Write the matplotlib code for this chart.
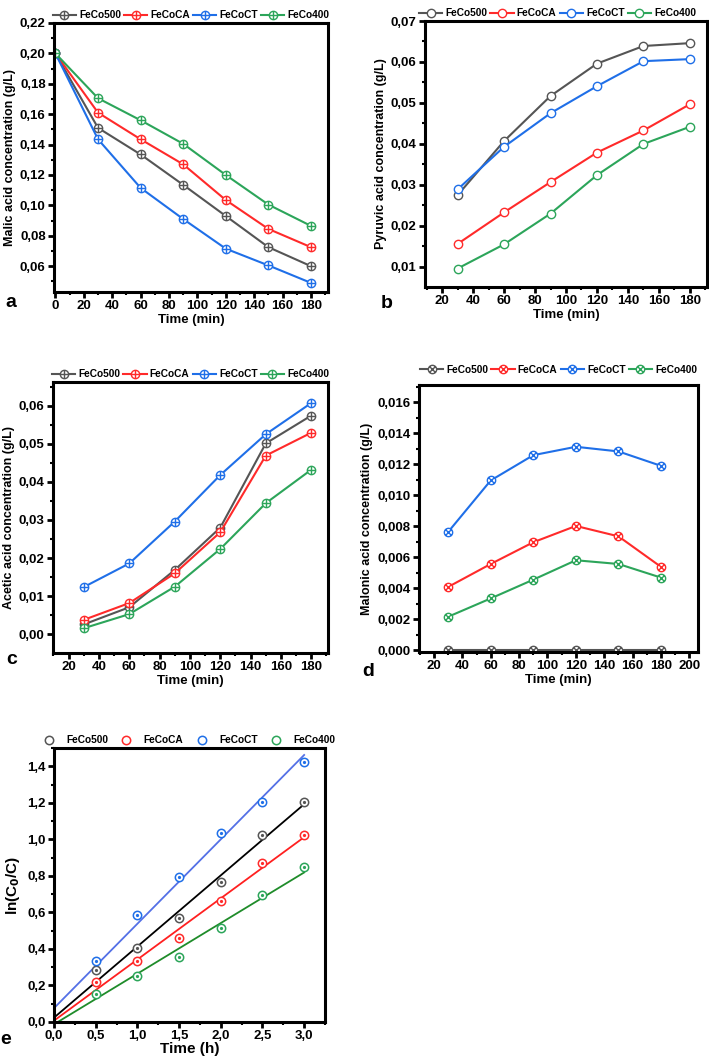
import numpy as np
import matplotlib
matplotlib.use('Agg')
import matplotlib.pyplot as plt
from matplotlib.path import Path
from matplotlib.ticker import MultipleLocator, FuncFormatter

plt.rcParams['font.family'] = ['Liberation Sans', 'DejaVu Sans']
plt.rcParams['font.weight'] = 'bold'
plt.rcParams['axes.labelweight'] = 'bold'

samples = ['FeCo500', 'FeCoCA', 'FeCoCT', 'FeCo400']
colors = ['#555555', '#ff2a2a', '#1f6fe8', '#2ca55a']

# a) malic acid
time_a = [0, 30, 60, 90, 120, 150, 180]
malic = {
    'FeCo500': [0.200, 0.151, 0.1335, 0.1135, 0.093, 0.0725, 0.060],
    'FeCoCA': [0.200, 0.161, 0.1435, 0.127, 0.1035, 0.0845, 0.0725],
    'FeCoCT': [0.200, 0.1435, 0.1115, 0.091, 0.0715, 0.0605, 0.0490],
    'FeCo400': [0.200, 0.1705, 0.156, 0.1405, 0.120, 0.1005, 0.0865],
}

# b, c, d
time_bcd = [30, 60, 90, 120, 150, 180]
pyruvic = {
    'FeCo500': [0.0275, 0.0407, 0.0517, 0.0596, 0.0639, 0.0646],
    'FeCoCA': [0.0156, 0.0233, 0.0307, 0.0379, 0.0433, 0.0497],
    'FeCoCT': [0.0289, 0.0393, 0.0475, 0.0541, 0.0602, 0.0607],
    'FeCo400': [0.0096, 0.0155, 0.0230, 0.0324, 0.0400, 0.0442],
}
acetic = {
    'FeCo500': [0.0026, 0.0071, 0.0169, 0.0280, 0.0501, 0.0574],
    'FeCoCA': [0.0038, 0.0082, 0.0160, 0.0268, 0.0469, 0.0529],
    'FeCoCT': [0.0124, 0.0186, 0.0296, 0.0418, 0.0525, 0.0607],
    'FeCo400': [0.0016, 0.0053, 0.0125, 0.0224, 0.0344, 0.0432],
}
malonic = {
    'FeCo500': [0.0, 0.0, 0.0, 0.0, 0.0, 0.0],
    'FeCoCA': [0.00409, 0.00557, 0.00697, 0.00802, 0.00735, 0.00538],
    'FeCoCT': [0.00763, 0.01095, 0.01258, 0.01312, 0.01282, 0.01189],
    'FeCo400': [0.00217, 0.00335, 0.00456, 0.00581, 0.00557, 0.00469],
}

# e) kinetics
time_h = [0.5, 1.0, 1.5, 2.0, 2.5, 3.0]
ln_c0c = {
    'FeCo500': [0.284, 0.405, 0.572, 0.769, 1.022, 1.204],
    'FeCoCA': [0.220, 0.336, 0.459, 0.662, 0.868, 1.022],
    'FeCoCT': [0.334, 0.587, 0.794, 1.037, 1.204, 1.426],
    'FeCo400': [0.156, 0.251, 0.358, 0.516, 0.694, 0.846],
}
fit_colors = ['#000000', '#ff2020', '#5470e6', '#1f8c2a']

M, L = Path.MOVETO, Path.LINETO
circ = Path.unit_circle()
plus_mk = Path.make_compound_path(circ, Path([[-1, 0], [1, 0], [0, -1], [0, 1]], [M, L, M, L]))
d = 0.707
cross_mk = Path.make_compound_path(circ, Path([[-d, -d], [d, d], [-d, d], [d, -d]], [M, L, M, L]))

W, H = 709, 1063
fig = plt.figure(figsize=(W / 100, H / 100), dpi=100)


def add_ax(l, r, t, b):
    return fig.add_axes([l / W, 1 - b / H, (r - l) / W, (b - t) / H])


def comma(nd):
    return FuncFormatter(lambda v, p: f'{v:.{nd}f}'.replace('.', ','))


def style(ax, xmaj, xmin, ymaj, ymin, xd, yd):
    for s in ax.spines.values():
        s.set_linewidth(2.2)
    ax.xaxis.set_major_locator(MultipleLocator(xmaj))
    ax.xaxis.set_minor_locator(MultipleLocator(xmin))
    ax.yaxis.set_major_locator(MultipleLocator(ymaj))
    ax.yaxis.set_minor_locator(MultipleLocator(ymin))
    ax.xaxis.set_major_formatter(comma(xd) if xd is not None else FuncFormatter(lambda v, p: f'{v:.0f}'))
    ax.yaxis.set_major_formatter(comma(yd))
    ax.tick_params(which='major', direction='out', length=4, width=2, labelsize=9.5, pad=2)
    ax.tick_params(which='minor', direction='out', length=2.5, width=1.5)
    ax.tick_params(top=False, right=False, which='both')


def legend_top(ax, **kw):
    opts = dict(loc='lower center', bbox_to_anchor=(0.5, 1.0), ncol=4, frameon=False,
                fontsize=7.3, handlelength=2.3, handletextpad=0.3, columnspacing=0.3,
                borderaxespad=0.15, borderpad=0.1)
    opts.update(kw)
    ax.legend(**opts)


def line_panel(ax, x, data, marker):
    for name, c in zip(samples, colors):
        ax.plot(x, data[name], color=c, lw=1.5, marker=marker, ms=6,
                mfc='white', mec=c, mew=1.0, label=name)


# panel a
ax = add_ax(54, 328, 23, 292)
line_panel(ax, time_a, malic, plus_mk)
ax.set_xlim(-1, 192)
ax.set_ylim(0.043, 0.22)
style(ax, 20, 10, 0.02, 0.01, None, 2)
ax.set_xlabel('Time (min)', fontsize=9.5, labelpad=1)
ax.set_ylabel('Malic acid concentration (g/L)', fontsize=9, labelpad=3)
legend_top(ax)
fig.text(5 / W, 1 - 303 / H, 'a', fontsize=14, fontweight='bold', va='center')

# panel b
ax = add_ax(425, 707, 21, 287)
line_panel(ax, time_bcd, pyruvic, 'o')
ax.set_xlim(9, 191)
ax.set_ylim(0.0051, 0.07)
style(ax, 20, 10, 0.01, 0.005, None, 2)
ax.set_xlabel('Time (min)', fontsize=9.5, labelpad=1)
ax.set_ylabel('Pyruvic acid concentration (g/L)', fontsize=9, labelpad=3)
legend_top(ax, bbox_to_anchor=(0.47, 1.0))
fig.text(387 / W, 1 - 304 / H, 'b', fontsize=14, fontweight='bold', va='center', ha='center')

# panel c
ax = add_ax(53, 328, 382, 653)
line_panel(ax, time_bcd, acetic, plus_mk)
ax.set_xlim(9.7, 191)
ax.set_ylim(-0.0049, 0.0662)
style(ax, 20, 10, 0.01, 0.005, None, 2)
ax.set_xlabel('Time (min)', fontsize=9.5, labelpad=1)
ax.set_ylabel('Acetic acid concentration (g/L)', fontsize=9, labelpad=3)
legend_top(ax)
fig.text(12 / W, 1 - 660 / H, 'c', fontsize=14, fontweight='bold', va='center', ha='center')

# panel d
ax = add_ax(419, 698, 385, 652)
line_panel(ax, time_bcd, malonic, cross_mk)
ax.set_xlim(9.5, 206)
ax.set_ylim(-0.0001, 0.0171)
style(ax, 20, 10, 0.002, 0.001, None, 3)
ax.set_xlabel('Time (min)', fontsize=9.5, labelpad=1)
ax.set_ylabel('Malonic acid concentration (g/L)', fontsize=9, labelpad=3)
legend_top(ax, borderaxespad=0.9)
fig.text(368 / W, 1 - 672 / H, 'd', fontsize=14, fontweight='bold', va='center', ha='center')

# panel e
ax = add_ax(54, 325, 748, 1022)
xfit = np.array([0.0, 3.0])
for name, c, fc in zip(samples, colors, fit_colors):
    xs = np.concatenate([[0.0], time_h])
    ys = np.concatenate([[0.0], ln_c0c[name]])
    k, b0 = np.polyfit(xs, ys, 1)
    ax.plot(xfit, k * xfit + b0, color=fc, lw=1.3, zorder=2)
for name, c in zip(samples, colors):
    ax.plot(time_h, ln_c0c[name], ls='none', marker='o', ms=6, mfc='white', mec=c,
            mew=1.1, label=name, zorder=3)
    ax.plot(time_h, ln_c0c[name], ls='none', marker='o', ms=1.3, mfc=c, mec=c, zorder=4)
ax.set_xlim(0, 3.25)
ax.set_ylim(0, 1.5)
style(ax, 0.5, 0.25, 0.2, 0.1, 1, 1)
ax.set_xlabel('Time (h)', fontsize=11, labelpad=0)
ax.set_ylabel('ln(C$_\\mathbf{0}$/C)', fontsize=11, labelpad=4)
legend_top(ax, fontsize=7.3, handlelength=1.0, handletextpad=1.2, columnspacing=1.3)
fig.text(6 / W, 1 - 1040 / H, 'e', fontsize=14, fontweight='bold', va='center', ha='center')

fig.savefig('out.png', dpi=100)
